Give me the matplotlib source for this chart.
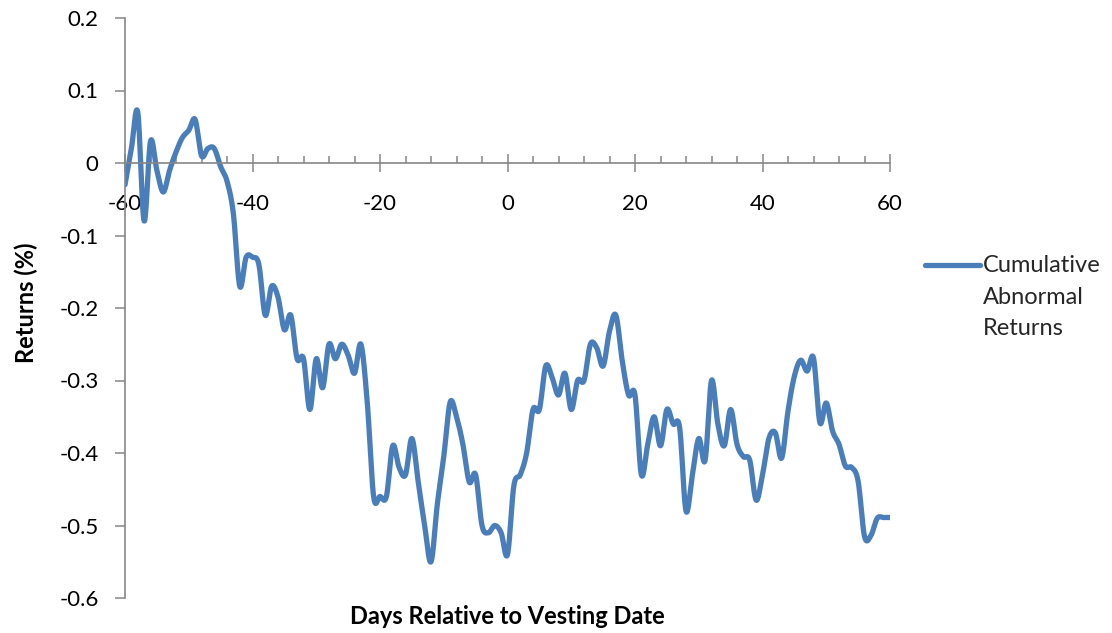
import numpy as np
import matplotlib
matplotlib.use("Agg")
import matplotlib.pyplot as plt
from matplotlib.lines import Line2D
from matplotlib.ticker import MultipleLocator, FixedLocator, FixedFormatter

plt.rcParams['font.family'] = ['Lato', 'DejaVu Sans']
plt.rcParams['axes.unicode_minus'] = False

# event window, days relative to vesting
days = np.arange(-60, 61)

# cumulative abnormal returns (%), one value per day
car = [
    -0.030, 0.020, 0.070, -0.080, 0.030, -0.010, -0.040, -0.010, 0.015, 0.035,   # -60..-51
    0.045, 0.060, 0.010, 0.020, 0.020, -0.005, -0.025, -0.070, -0.170, -0.130,   # -50..-41
    -0.130, -0.140, -0.210, -0.170, -0.185, -0.230, -0.210, -0.270, -0.270, -0.340,  # -40..-31
    -0.270, -0.310, -0.250, -0.270, -0.250, -0.265, -0.290, -0.250, -0.330, -0.460,  # -30..-21
    -0.460, -0.460, -0.390, -0.420, -0.430, -0.380, -0.440, -0.500, -0.550, -0.470,  # -20..-11
    -0.405, -0.330, -0.350, -0.388, -0.440, -0.430, -0.500, -0.510, -0.500, -0.510,  # -10..-1
    -0.540, -0.445, -0.430, -0.400, -0.340, -0.340, -0.280, -0.296, -0.320, -0.290,  # 0..9
    -0.340, -0.300, -0.300, -0.250, -0.255, -0.280, -0.232, -0.210, -0.273, -0.320,  # 10..19
    -0.320, -0.430, -0.388, -0.350, -0.390, -0.340, -0.360, -0.365, -0.480, -0.430,  # 20..29
    -0.380, -0.410, -0.300, -0.360, -0.390, -0.340, -0.388, -0.405, -0.410, -0.465,  # 30..39
    -0.430, -0.380, -0.372, -0.407, -0.342, -0.294, -0.272, -0.287, -0.269, -0.358,  # 40..49
    -0.331, -0.370, -0.388, -0.418, -0.420, -0.439, -0.515, -0.514, -0.490, -0.489,  # 50..59
    -0.489,                                                                          # 60
]

y_ticks = [-0.6, -0.5, -0.4, -0.3, -0.2, -0.1, 0.0, 0.1, 0.2]
y_tick_labels = ['-0.6', '-0.5', '-0.4', '-0.3', '-0.2', '-0.1', '0', '0.1', '0.2']
x_ticks = [-60, -40, -20, 0, 20, 40, 60]


def smooth_line(x, y, n=16):
    """Catmull-Rom style smoothing (same idea as a spreadsheet 'smoothed line')."""
    x = np.asarray(x, float)
    y = np.asarray(y, float)
    px = np.concatenate([[x[0]], x, [x[-1]]])
    py = np.concatenate([[y[0]], y, [y[-1]]])
    t = np.linspace(0, 1, n, endpoint=False)[:, None]
    xs, ys = [], []
    for i in range(1, len(px) - 2):
        p0, p1, p2, p3 = (np.array([px[j], py[j]]) for j in (i - 1, i, i + 1, i + 2))
        c1 = p1 + (p2 - p0) / 6.0
        c2 = p2 - (p3 - p1) / 6.0
        seg = ((1 - t) ** 3) * p1 + 3 * ((1 - t) ** 2) * t * c1 + 3 * (1 - t) * t ** 2 * c2 + t ** 3 * p2
        xs.append(seg[:, 0])
        ys.append(seg[:, 1])
    xs.append([x[-1]])
    ys.append([y[-1]])
    return np.concatenate(xs), np.concatenate(ys)


axis_gray = '#868686'
line_blue = '#4A7EBB'

fig = plt.figure(figsize=(11.12, 6.33), dpi=100)
ax = fig.add_axes([125 / 1112, 35 / 633, 765 / 1112, 580 / 633])

sx, sy = smooth_line(days, car)
ax.plot(sx, sy, color=line_blue, linewidth=3.8, solid_capstyle='round')

ax.set_xlim(-60, 60)
ax.set_ylim(-0.6, 0.2)

# x axis runs through zero, y axis on the left edge
ax.spines['bottom'].set_position(('data', 0))
ax.spines['top'].set_visible(False)
ax.spines['right'].set_visible(False)
for s in ('bottom', 'left'):
    ax.spines[s].set_color(axis_gray)
    ax.spines[s].set_linewidth(1.2)

ax.xaxis.set_major_locator(FixedLocator(x_ticks))
ax.xaxis.set_minor_locator(MultipleLocator(4))
ax.tick_params(axis='x', which='major', direction='inout', length=13, width=1.1,
               color=axis_gray, pad=16, labelsize=16)
ax.tick_params(axis='x', which='minor', direction='in', length=5, width=1.1,
               color=axis_gray)

ax.yaxis.set_major_locator(FixedLocator(y_ticks))
ax.yaxis.set_major_formatter(FixedFormatter(y_tick_labels))
ax.tick_params(axis='y', which='major', direction='out', length=7, width=1.1,
               color=axis_gray, pad=12, labelsize=16)

fig.text(26 / 1112, 1 - 303 / 633, 'Returns (%)', rotation=90, ha='center', va='center',
         fontsize=17, fontweight='bold')
fig.text(507 / 1112, 1 - 617 / 633, 'Days Relative to Vesting Date', ha='center', va='center',
         fontsize=17, fontweight='bold')

# legend entry on the right
fig.add_artist(Line2D([925 / 1112, 980 / 1112], [1 - 265 / 633, 1 - 265 / 633],
                      color=line_blue, linewidth=3.8, solid_capstyle='round'))
fig.text(983 / 1112, 1 - 255 / 633, 'Cumulative\nAbnormal\nReturns', ha='left', va='top',
         fontsize=17, linespacing=1.62, color='#262626')

fig.savefig('out.png', dpi=100)
